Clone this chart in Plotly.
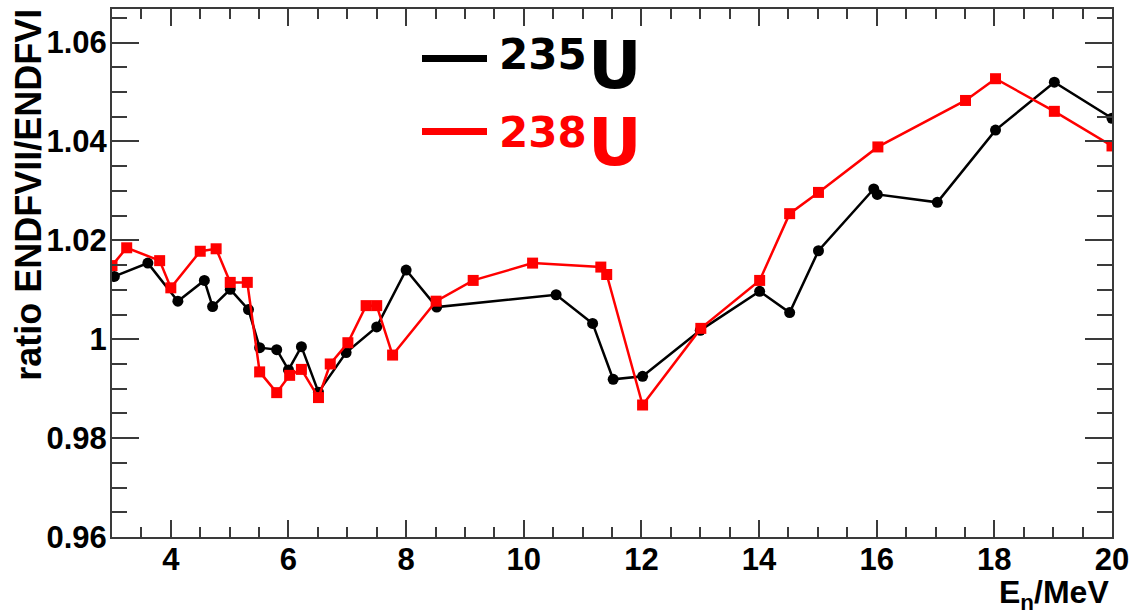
import plotly.graph_objects as go

# ---- data ----
u235_x = [3.04, 3.61, 4.12, 4.57, 4.71, 5.01, 5.32, 5.51, 5.80, 6.00, 6.22, 6.51,
          6.98, 7.50, 8.00, 8.52, 10.55, 11.17, 11.52, 12.02, 13.0, 14.01, 14.52,
          15.01, 15.95, 16.01, 17.03, 18.02, 19.02, 20.0]
u235_y = [1.0127, 1.0154, 1.0077, 1.0119, 1.0066, 1.0101, 1.0060, 0.9983, 0.9979, 0.9938,
          0.9985, 0.9893, 0.9973, 1.0025, 1.0140, 1.0065, 1.0090, 1.0032, 0.9919, 0.9925,
          1.0018, 1.0097, 1.0054, 1.0179, 1.0304, 1.0293, 1.0277, 1.0423, 1.0520, 1.0447]

u238_x = [3.0, 3.25, 3.81, 4.0, 4.5, 4.77, 5.01, 5.30, 5.51, 5.80, 6.02, 6.22, 6.51,
          6.71, 7.01, 7.32, 7.50, 7.77, 8.51, 9.14, 10.15, 11.31, 11.41, 12.02, 13.01,
          14.01, 14.52, 15.01, 16.02, 17.51, 18.02, 19.02, 20.0]
u238_y = [1.0149, 1.0185, 1.0159, 1.0104, 1.0178, 1.0183, 1.0115, 1.0115, 0.9934, 0.9892,
          0.9927, 0.9939, 0.9882, 0.9950, 0.9993, 1.0068, 1.0068, 0.9968, 1.0077, 1.0119,
          1.0154, 1.0146, 1.0131, 0.9867, 1.0022, 1.0119, 1.0254, 1.0297, 1.0389, 1.0483,
          1.0527, 1.0461, 1.0391]

x_ticks = [4, 6, 8, 10, 12, 14, 16, 18, 20]
y_ticks = [0.96, 0.98, 1.0, 1.02, 1.04, 1.06]
y_tick_text = ["0.96", "0.98", "1", "1.02", "1.04", "1.06"]

W, H = 1136, 616
ML, MR, MT, MB = 112, 24, 7, 79
PW, PH = W - ML - MR, H - MT - MB


def px(xp):
    return (xp - ML) / PW


def py(yp):
    return (H - MB - yp) / PH


fig = go.Figure()
fig.add_trace(go.Scatter(x=u235_x, y=u235_y, mode="lines+markers", name="235U",
                         line=dict(color="black", width=2.5),
                         marker=dict(symbol="circle", size=11, color="black")))
fig.add_trace(go.Scatter(x=u238_x, y=u238_y, mode="lines+markers", name="238U",
                         line=dict(color="#ff0000", width=2.5),
                         marker=dict(symbol="square", size=11, color="#ff0000")))

axis_col = "#3a3a3a"
tick_font = dict(family="Liberation Sans", size=31, color="black", weight="bold")

fig.update_xaxes(range=[3, 20], tickvals=x_ticks, ticktext=[str(v) for v in x_ticks],
                 ticks="inside", ticklen=17, tickwidth=1.5, tickcolor=axis_col,
                 minor=dict(dtick=0.5, tick0=3, ticks="inside", ticklen=10,
                            tickwidth=1.5, tickcolor=axis_col, showgrid=False),
                 showline=True, linecolor=axis_col, linewidth=2, mirror="ticks",
                 showgrid=False, zeroline=False, tickfont=tick_font,
                 ticklabelstandoff=-6)
fig.update_yaxes(range=[0.96, 1.0668], tickvals=y_ticks, ticktext=y_tick_text,
                 ticks="inside", ticklen=27, tickwidth=1.5, tickcolor=axis_col,
                 minor=dict(dtick=0.005, tick0=0.96, ticks="inside", ticklen=15,
                            tickwidth=1.5, tickcolor=axis_col, showgrid=False),
                 showline=True, linecolor=axis_col, linewidth=2, mirror="ticks",
                 showgrid=False, zeroline=False, tickfont=tick_font,
                 ticklabelstandoff=-3)

ann = []
# y-axis title
ann.append(dict(text="ratio ENDFVII/ENDFVI", textangle=-90, xref="paper", yref="paper",
                x=px(28.5), y=py(194), xanchor="center", yanchor="middle", showarrow=False,
                font=dict(family="Liberation Sans", size=36, color="black", weight="bold")))
# x-axis title
ann.append(dict(text="E<sub>n</sub>/MeV", xref="paper", yref="paper",
                x=px(1111), y=py(595), xanchor="right", yanchor="middle", showarrow=False,
                font=dict(family="Liberation Sans", size=32, color="black", weight="bold")))
# legend texts
leg_font = "DejaVu Sans"
for mass, col, ymid_sup, ymid_u in [("235", "black", 52.3, 64), ("238", "#ff0000", 130.5, 140.7)]:
    ann.append(dict(text=mass, xref="paper", yref="paper", x=px(497), y=py(ymid_sup),
                    xanchor="left", yanchor="middle", showarrow=False,
                    font=dict(family=leg_font, size=42, color=col, weight="bold")))
    ann.append(dict(text="U", xref="paper", yref="paper", x=px(586), y=py(ymid_u),
                    xanchor="left", yanchor="middle", showarrow=False,
                    font=dict(family=leg_font, size=66, color=col, weight="bold")))

shapes = [
    dict(type="line", xref="paper", yref="paper", x0=px(422), x1=px(487), y0=py(56.7), y1=py(56.7),
         line=dict(color="black", width=7)),
    dict(type="line", xref="paper", yref="paper", x0=px(422), x1=px(487), y0=py(130), y1=py(130),
         line=dict(color="#ff0000", width=7)),
]

fig.update_layout(width=W, height=H, margin=dict(l=ML, r=MR, t=MT, b=MB),
                  paper_bgcolor="white", plot_bgcolor="white", showlegend=False,
                  annotations=ann, shapes=shapes)

fig.write_html("out.html")
